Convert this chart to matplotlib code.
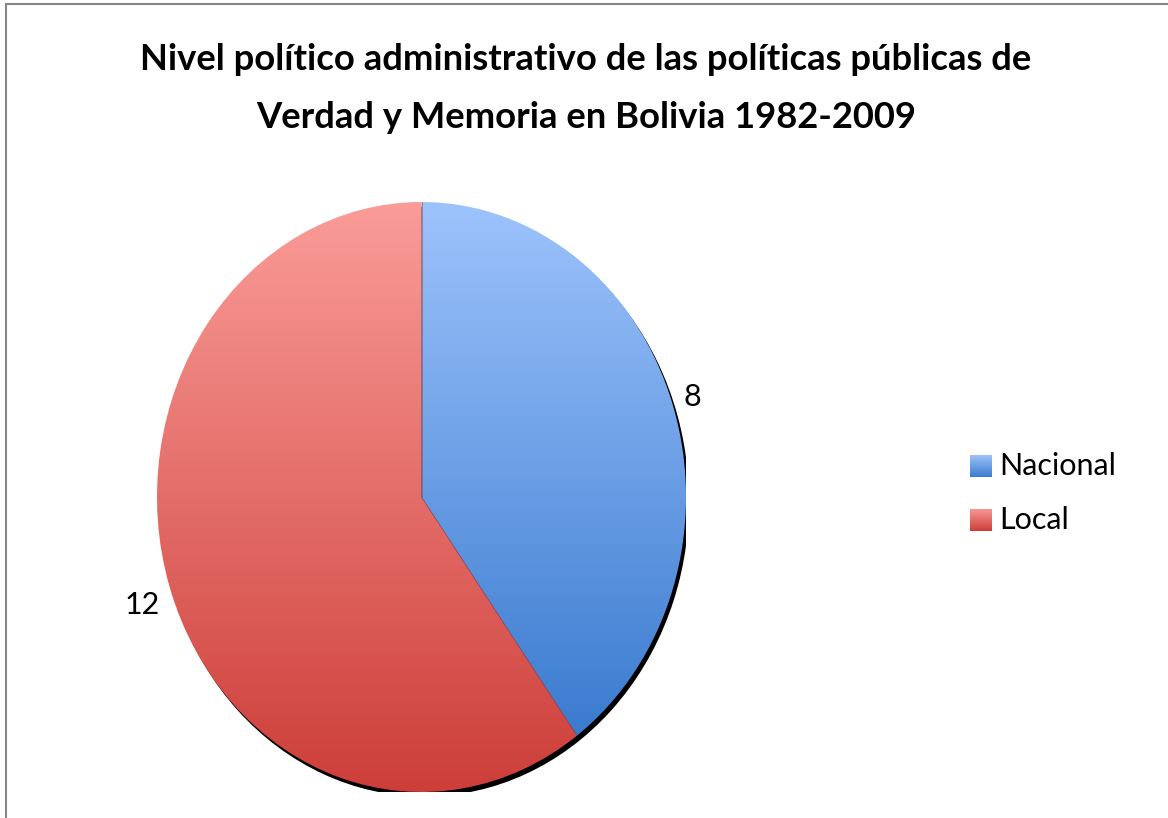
import numpy as np
import matplotlib
matplotlib.use("Agg")
import matplotlib.pyplot as plt
from matplotlib.patches import Ellipse, Wedge
from matplotlib.lines import Line2D

# data
labels = ["Nacional", "Local"]
values = [8, 12]
title_lines = ["Nivel político administrativo de las políticas públicas de",
               "Verdad y Memoria en Bolivia 1982-2009"]
top_colours = ["#9DC3FC", "#FA9C98"]
bottom_colours = ["#3A7BCF", "#CD3E39"]

W, H = 1168, 818
fig = plt.figure(figsize=(W / 100, H / 100), dpi=100)
plt.rcParams["font.family"] = ["Lato", "DejaVu Sans"]


def fx(px):
    return px / W


def fy(py):
    return 1 - py / H


# pie axes, stretched into an ellipse like the original
left, right, top, bottom = 157, 686, 202, 792
ax = fig.add_axes([fx(left), fy(bottom), fx(right - left), (bottom - top) / H])


def gradient_img(c_top, c_bot, n=256):
    a = np.array(matplotlib.colors.to_rgb(c_top))
    b = np.array(matplotlib.colors.to_rgb(c_bot))
    t = np.linspace(0, 1, n)[:, None]
    return (a * (1 - t) + b * t)[:, None, :]


# shadow
sx = 3.0 / ((right - left) / 2)
sy = 4.5 / ((bottom - top) / 2)
ax.add_patch(Ellipse((sx, -sy), 2, 2, facecolor="black", edgecolor="none", zorder=0))

wedges, _ = ax.pie(values, startangle=90, counterclock=False, radius=1,
                   wedgeprops=dict(linewidth=0))

for w, ct, cb in zip(wedges, top_colours, bottom_colours):
    w.set_facecolor("none")
    w.set_zorder(3)
    th1, th2 = np.deg2rad(w.theta1), np.deg2rad(w.theta2)
    angs = np.linspace(th1, th2, 200)
    ys = np.concatenate([np.sin(angs), [0]])
    ymin, ymax = ys.min(), ys.max()
    im = ax.imshow(gradient_img(ct, cb), extent=(-1, 1, ymin, ymax), aspect="auto",
                   origin="upper", zorder=2)
    clip = Wedge((0, 0), 1, w.theta1, w.theta2, transform=ax.transData)
    im.set_clip_path(clip)
    # thin separator line along the slice start
    ax.plot([0, np.cos(th2)], [0, np.sin(th2)], color="#9A4A5A", lw=0.6, alpha=0.7, zorder=4)

ax.set_xlim(-1, 1)
ax.set_ylim(-1, 1)
ax.set_aspect("auto")
ax.axis("off")

# value labels
fig.text(fx(692), fy(397), str(values[0]), fontsize=22, ha="center", va="center")
fig.text(fx(142), fy(605), str(values[1]), fontsize=22, ha="center", va="center")

# title
fig.text(fx(586), fy(60), title_lines[0], fontsize=26.2, fontweight="bold",
         ha="center", va="center")
fig.text(fx(586), fy(118), title_lines[1], fontsize=26.2, fontweight="bold",
         ha="center", va="center")

# legend
for i, (lab, ct, cb) in enumerate(zip(labels, top_colours, bottom_colours)):
    yc = 466 + i * 54
    lax = fig.add_axes([fx(970), fy(yc + 11), fx(21), 22 / H])
    lax.imshow(gradient_img(ct, cb), extent=(0, 1, 0, 1), aspect="auto")
    lax.axis("off")
    fig.text(fx(999), fy(yc), lab, fontsize=22, ha="left", va="center")

# chart frame
fig.add_artist(Line2D([fx(6), fx(6)], [fy(4), 0], color="#868686", lw=1.5))
fig.add_artist(Line2D([fx(6), 1], [fy(4), fy(4)], color="#868686", lw=1.5))

fig.savefig("out.png", dpi=100)
